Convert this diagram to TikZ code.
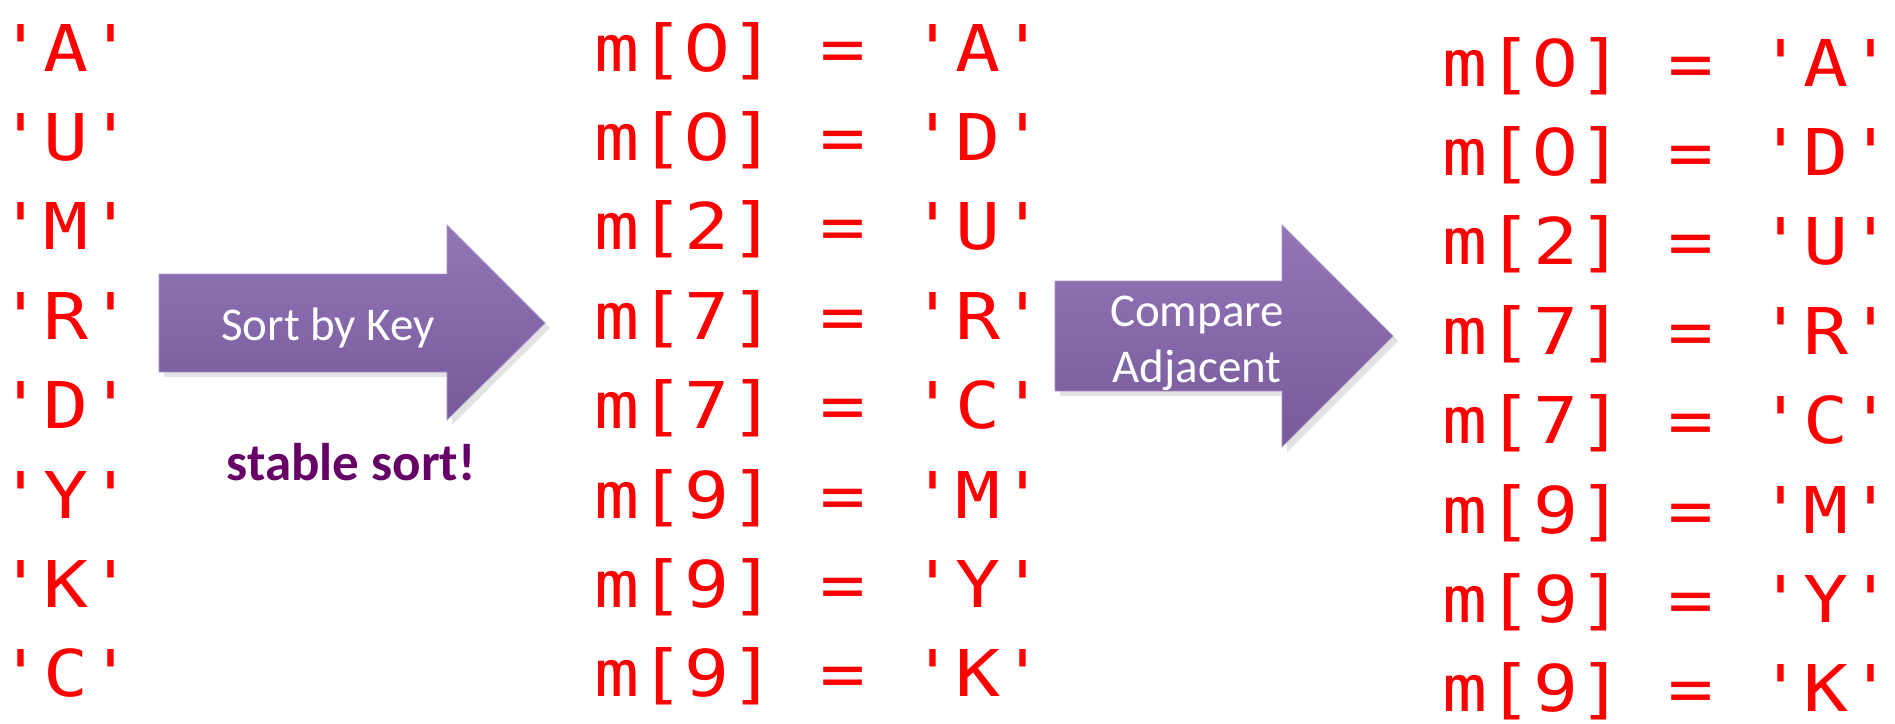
\documentclass[tikz,border=0pt]{standalone}
\usepackage{fontspec}
\setmainfont{Carlito}
\setmonofont{DejaVu Sans Mono}
\newfontfamily\zerofont{DejaVu Sans}
\usetikzlibrary{shadows}
\definecolor{codered}{RGB}{255,0,0}
\definecolor{arrtop}{RGB}{146,118,184}
\definecolor{arrbot}{RGB}{118,90,154}
\definecolor{plum}{RGB}{102,0,102}
\newcommand\myzero{\makebox[0.602em]{\zerofont 0}}
\begin{document}
\begin{tikzpicture}[x=0.5pt,y=-0.5pt,
  code/.style={anchor=base west, inner sep=0pt, text=codered,
    font=\ttfamily\fontsize{32.25}{36}\selectfont},
  blockarrow/.style={top color=arrtop, bottom color=arrbot,
    draw=arrtop!80!white, line width=0.4pt,
    drop shadow={opacity=0.22, shadow xshift=2.5pt, shadow yshift=-2.5pt}},
  arrlabel/.style={anchor=base, inner sep=0pt, text=white,
    font=\fontsize{23.5}{28}\selectfont},
  note/.style={anchor=base, inner sep=0pt, text=plum,
    font=\bfseries\fontsize{26.5}{30}\selectfont}]
\useasboundingbox (0,0) rectangle (1895,723);

% block arrows
\draw[blockarrow] (159,274) -- (447,274) -- (447,225) -- (545,323)
  -- (447,420) -- (447,372) -- (159,372) -- cycle;
\draw[blockarrow] (1055,281) -- (1282,281) -- (1282,225) -- (1393,336)
  -- (1282,447) -- (1282,391) -- (1055,391) -- cycle;

\node[arrlabel] (sortkey) at (328,340) {Sort by Key};
\node[arrlabel] (cmpA) at (1197,326) {Compare};
\node[arrlabel] (cmpB) at (1197,382) {Adjacent};
\node[note] (stable) at (351,480) {stable sort!};

% input column
\foreach \ch [count=\i from 0] in {A,U,M,R,D,Y,K,C}
  \node[code] (in\i) at (-2, 71+89.4*\i) {\scalebox{1.16}[1]{'\ch'}};

% sorted columns
\foreach \k/\ch [count=\i from 0] in {\myzero/A,\myzero/D,2/U,7/R,7/C,9/M,9/Y,9/K} {
  \node[code] (mid\i) at (594.5, 71+89.4*\i) {\scalebox{1.16}[1]{m[\k] = '\ch'}};
  \node[code] (out\i) at (1442.5, 86+89.4*\i) {\scalebox{1.16}[1]{m[\k] = '\ch'}};
}
\end{tikzpicture}
\end{document}
